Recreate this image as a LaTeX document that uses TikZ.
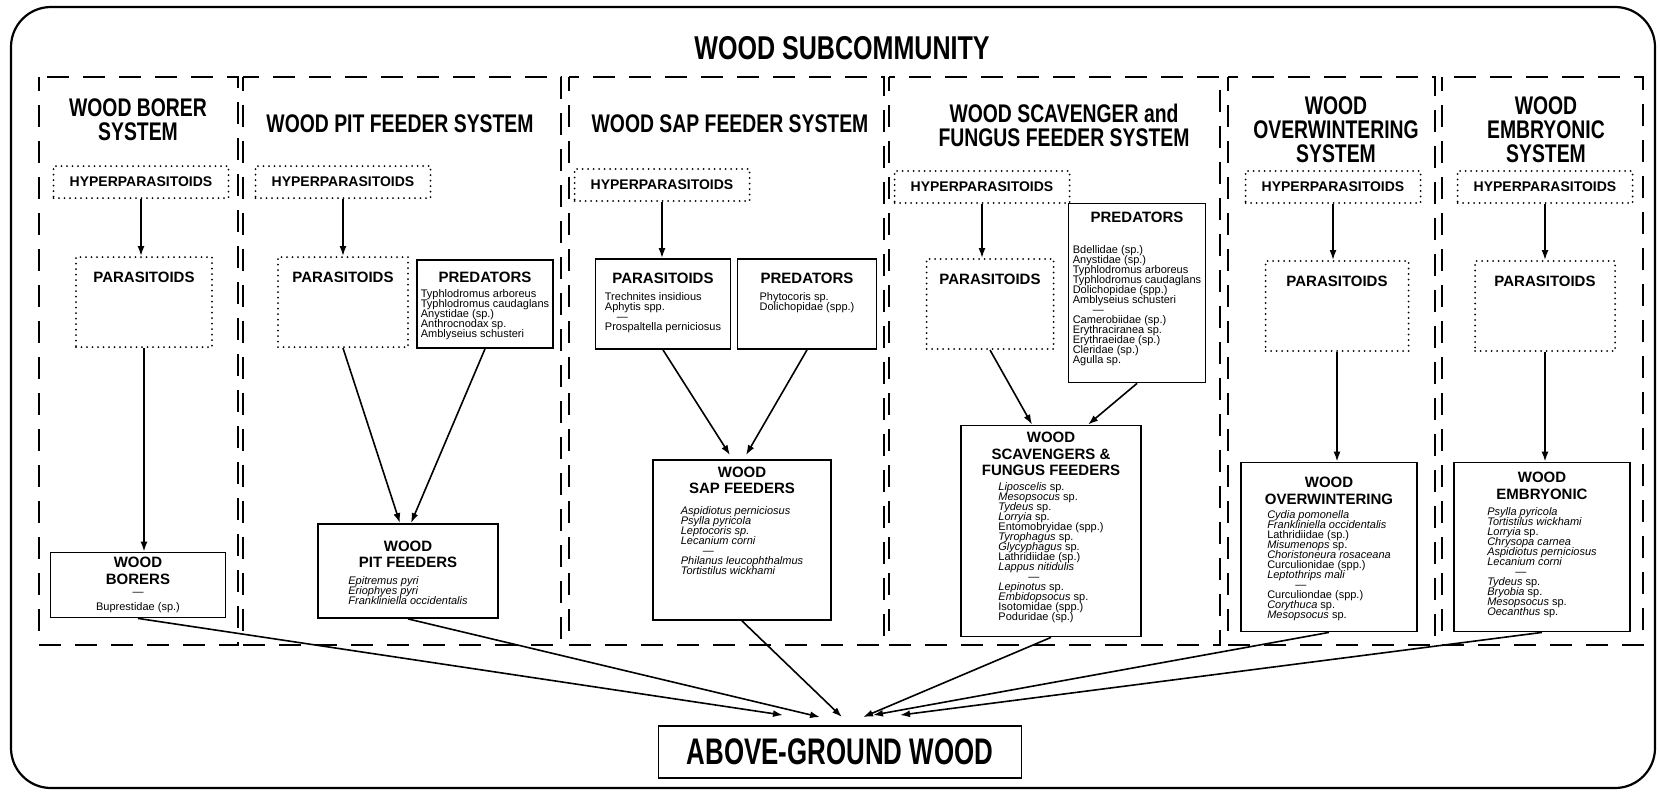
\documentclass[tikz,border=0pt]{standalone}
\usepackage{fontspec}
\setmainfont{Liberation Sans}
\newfontfamily\titlefont[FakeStretch=0.76]{Liberation Sans Bold}
\newfontfamily\groundfont[FakeStretch=0.7]{Liberation Sans Bold}
\usetikzlibrary{positioning,arrows.meta}

\newcommand{\headtxt}{\fontsize{15}{16.5}\selectfont\bfseries}
\newcommand{\listtxt}{\fontsize{11}{10.1}\selectfont}
\newcommand{\spdash}[1][22pt]{\hspace*{#1}\textemdash}
% width, height, top gap, heading
\newcommand{\headonly}[4]{\parbox[c][#2][t]{#1}{\centering\vspace*{#3}\headtxt #4\par}}
% width, height, top gap, heading, gap, list
\newcommand{\boxbody}[6]{\parbox[c][#2][t]{#1}{\centering\vspace*{#3}%
  {\headtxt #4\par}\vspace{#5}%
  {\listtxt\leavevmode\vtop{\baselineskip=10pt\lineskiplimit=-20pt\lineskip=0pt%
    \def\\{\cr}\halign{##\hfil\cr #6\crcr}}\par}}}

\begin{document}
\begin{tikzpicture}[x=1pt,y=-1pt,
  outerframe/.style={line width=2.2pt,rounded corners=40pt},
  sysframe/.style={line width=2pt,dash pattern=on 22pt off 14pt,dash phase=8pt},
  systitle/.style={font=\titlefont\fontsize{25.5}{24}\selectfont,align=center,inner sep=0pt},
  dotbox/.style={draw,line width=2pt,line cap=round,dash pattern=on 0pt off 5.5pt,inner sep=0pt},
  hyper/.style={dotbox,minimum width=175pt,minimum height=32pt,font=\fontsize{14}{14}\selectfont\bfseries},
  solidbox/.style={draw,line width=1.8pt,inner sep=0pt},
  arr/.style={line width=1.6pt,-{Latex[length=10pt,width=7pt]}}]

\useasboundingbox (0,0) rectangle (1660,793);
\draw[outerframe] (11,7) rectangle (1655,788);
\node[font=\titlefont\fontsize{33}{33}\selectfont] (ttl) at (842,48) {WOOD SUBCOMMUNITY};

% systems
\draw[sysframe] (39,77) rectangle (238,645);
\draw[sysframe] (243,77) rectangle (561,645);
\draw[sysframe] (569,77) rectangle (884,645);
\draw[sysframe] (889,77) rectangle (1220,645);
\draw[sysframe] (1228,77) rectangle (1435,645);
\draw[sysframe] (1442,77) rectangle (1643,645);

\node[systitle] (sys1) at (138,120) {WOOD BORER\\SYSTEM};
\node[systitle] (sys2) at (400,124) {WOOD PIT FEEDER SYSTEM};
\node[systitle] (sys3) at (730,124) {WOOD SAP FEEDER SYSTEM};
\node[systitle] (sys4) at (1064,125) {WOOD SCAVENGER and\\FUNGUS FEEDER SYSTEM};
\node[systitle] (sys5) at (1336,130) {WOOD\\OVERWINTERING\\SYSTEM};
\node[systitle] (sys6) at (1546,130) {WOOD\\EMBRYONIC\\SYSTEM};

% hyperparasitoids
\node[hyper] (hyp1) at (141,182) {HYPERPARASITOIDS};
\node[hyper] (hyp2) at (343,182) {HYPERPARASITOIDS};
\node[hyper] (hyp3) at (662,185) {HYPERPARASITOIDS};
\node[hyper] (hyp4) at (982,187) {HYPERPARASITOIDS};
\node[hyper] (hyp5) at (1333,187) {HYPERPARASITOIDS};
\node[hyper] (hyp6) at (1545,187) {HYPERPARASITOIDS};

% parasitoids and predators
\node[dotbox] (par1) at (144,302) {\headonly{136pt}{90pt}{15pt}{PARASITOIDS}};
\node[dotbox] (par2) at (343,302) {\headonly{130pt}{90pt}{15pt}{PARASITOIDS}};
\node[solidbox] (pred2) at (485,304) {\boxbody{136pt}{88pt}{12pt}{PREDATORS}{5pt}{%
  Typhlodromus arboreus\\Typhlodromus caudaglans\\Anystidae (sp.)\\Anthrocnodax sp.\\Amblyseius schusteri}};
\node[solidbox] (par3) at (663,304) {\boxbody{135pt}{90pt}{14pt}{PARASITOIDS}{7pt}{%
  Trechnites insidious\\Aphytis spp.\\ \spdash[12pt]\\Prospaltella perniciosus}};
\node[solidbox] (pred3) at (807,304) {\boxbody{139pt}{90pt}{14pt}{PREDATORS}{7pt}{%
  Phytocoris sp.\\Dolichopidae (spp.)}};
\node[dotbox] (par4) at (990,304) {\headonly{127pt}{90pt}{15pt}{PARASITOIDS}};
\node[solidbox] (pred4) at (1137,293) {\boxbody{137pt}{179pt}{9pt}{PREDATORS}{20pt}{%
  Bdellidae (sp.)\\Anystidae (sp.)\\Typhlodromus arboreus\\Typhlodromus caudaglans\\
  Dolichopidae (spp.)\\Amblyseius schusteri\\ \spdash[20pt]\\Camerobiidae (sp.)\\
  Erythraciranea sp.\\Erythraeidae (sp.)\\Cleridae (sp.)\\Agulla sp.}};
\node[dotbox] (par5) at (1337,306) {\headonly{143pt}{90pt}{15pt}{PARASITOIDS}};
\node[dotbox] (par6) at (1545,306) {\headonly{140pt}{90pt}{15pt}{PARASITOIDS}};

% feeding groups
\node[solidbox] (wood1) at (138,585) {\boxbody{175pt}{65pt}{5pt}{WOOD\\BORERS}{1pt}{%
  \omit\hfil\textemdash\hfil\\\noalign{\vskip5pt}Buprestidae (sp.)}};
\node[solidbox] (wood2) at (408,571) {\boxbody{180pt}{94pt}{17pt}{WOOD\\PIT FEEDERS}{6pt}{%
  \textit{Epitremus pyri}\\\textit{Eriophyes pyri}\\\textit{Frankliniella occidentalis}}};
\node[solidbox] (wood3) at (742,540) {\boxbody{178pt}{160pt}{7pt}{WOOD\\SAP FEEDERS}{10pt}{%
  \textit{Aspidiotus perniciosus}\\\textit{Psylla pyricola}\\\textit{Leptocoris sp.}\\
  \textit{Lecanium corni}\\ \spdash[22pt]\\\textit{Philanus leucophthalmus}\\\textit{Tortistilus wickhami}}};
\node[solidbox] (wood4) at (1051,531) {\boxbody{180pt}{211pt}{7pt}{WOOD\\SCAVENGERS \&\\FUNGUS FEEDERS}{4pt}{%
  \textit{Liposcelis} sp.\\\textit{Mesopsocus} sp.\\\textit{Tydeus} sp.\\\textit{Lorryia} sp.\\
  Entomobryidae (spp.)\\\textit{Tyrophagus} sp.\\\textit{Glycyphagus} sp.\\Lathridiidae (sp.)\\
  \textit{Lappus nitidulis}\\ \spdash[30pt]\\\textit{Lepinotus} sp.\\\textit{Embidopsocus} sp.\\
  Isotomidae (spp.)\\Poduridae (sp.)}};
\node[solidbox] (wood5) at (1329,547) {\boxbody{176pt}{169pt}{15pt}{WOOD\\OVERWINTERING}{4pt}{%
  \textit{Cydia pomonella}\\\textit{Frankliniella occidentalis}\\Lathridiidae (sp.)\\
  \textit{Misumenops} sp.\\\textit{Choristoneura rosaceana}\\Curculionidae (spp.)\\
  \textit{Leptothrips mali}\\ \spdash[28pt]\\Curculiondae (spp.)\\\textit{Corythuca} sp.\\\textit{Mesopsocus} sp.}};
\node[solidbox] (wood6) at (1542,547) {\boxbody{176pt}{169pt}{10pt}{WOOD\\EMBRYONIC}{6pt}{%
  \textit{Psylla pyricola}\\\textit{Tortistilus wickhami}\\\textit{Lorryia} sp.\\
  \textit{Chrysopa carnea}\\\textit{Aspidiotus perniciosus}\\\textit{Lecanium corni}\\
  \spdash[28pt]\\\textit{Tydeus} sp.\\\textit{Bryobia} sp.\\\textit{Mesopsocus} sp.\\\textit{Oecanthus} sp.}};

\node[solidbox,minimum width=363pt,minimum height=52pt,font=\groundfont\fontsize{37}{37}\selectfont] (ground) at (840,752) {ABOVE-GROUND WOOD};

% arrows inside the systems
\foreach \i in {1,...,6}
  \draw[arr] (hyp\i.south) -- (hyp\i.south |- par\i.north);
\draw[arr] (par1.south) -- (par1.south |- wood1.north);
\draw[arr] (par2.south) -- ([xshift=-8pt]wood2.north);
\draw[arr] (pred2.south) -- ([xshift=3pt]wood2.north);
\draw[arr] (par3.south) -- ([xshift=-12pt,yshift=4pt]wood3.north);
\draw[arr] (pred3.south) -- ([xshift=4pt,yshift=4pt]wood3.north);
\draw[arr] (par4.south) -- ([xshift=-19pt]wood4.north);
\draw[arr] (pred4.south) -- ([xshift=37pt]wood4.north);
\draw[arr] (par5.south) -- (par5.south |- wood5.north);
\draw[arr] (par6.south) -- (par6.south |- wood6.north);

% arrows to the wood
\draw[arr] (wood1.south) -- ([xshift=-57pt,yshift=10pt]ground.north);
\draw[arr] (wood2.south) -- ([xshift=-20pt,yshift=8pt]ground.north);
\draw[arr] (wood3.south) -- ([xshift=2pt,yshift=8pt]ground.north);
\draw[arr] (wood4.south) -- ([xshift=23pt,yshift=8pt]ground.north);
\draw[arr] (wood5.south) -- ([xshift=33pt,yshift=10pt]ground.north);
\draw[arr] (wood6.south) -- ([xshift=60pt,yshift=10pt]ground.north);
\end{tikzpicture}
\end{document}
